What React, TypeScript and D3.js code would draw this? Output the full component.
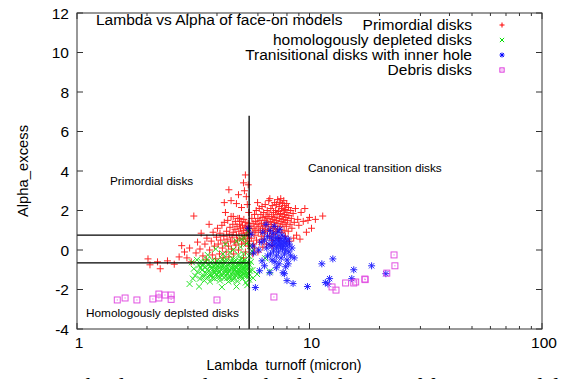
import React from 'react';
import * as d3 from 'd3';

const W = 569;
const H = 379;

const xTickValues = [1, 10, 100];
const xTickLabels = ['1', '10', '100'];
const xMinorTicks = [2, 3, 4, 5, 6, 7, 8, 9, 20, 30, 40, 50, 60, 70, 80, 90];
const yTickValues = [-4, -2, 0, 2, 4, 6, 8, 10, 12];

const legendNames = [
  'Primordial disks',
  'homologously depleted disks',
  'Tranisitional disks with inner hole',
  'Debris disks',
];
const seriesColors = ['#ff0000', '#00e000', '#0000ff', '#dd33dd'];

// boundary lines (data units)
const lambdaCut = 5.5;
const lambdaCutTop = 6.8;
const alphaUpper = 0.75;
const alphaLower = -0.65;

const primordial: [number, number][] = [
  [2.02, -0.45], [2.06, -0.75], [2.22, -0.6], [2.28, -0.95], [2.45, -0.55], [2.62, -0.72], [2.75, -0.35],
  [2.82, 0.22], [2.9, -0.1], [2.97, -0.4], [3.05, 0.1], [3.1, -0.6], [3.18, 1.72], [3.25, -0.15], [3.3, 0.4],
  [3.38, 0.05], [3.42, 0.85], [3.48, -0.3], [3.55, 0.3], [3.6, -0.5], [3.62, 0.6], [3.7, 1.3], [3.72, 0.0],
  [3.78, 0.45], [3.82, -0.25], [3.85, 0.9], [3.9, 0.2], [3.95, -0.45], [3.98, 0.65], [4.02, 1.1],
  [4.3, 2.4], [4.35, 1.9], [4.5, 3.05], [4.6, 2.5], [4.7, 1.7], [4.85, 2.35], [4.95, 2.8], [5.0, 1.6],
  [5.1, 2.15], [5.2, 3.4], [5.25, 3.0], [5.3, 3.8], [5.35, 2.7], [5.4, 2.3], [5.45, 3.3], [5.48, 1.9],
  [4.05, 0.3], [4.1, -0.2], [4.12, 0.85], [4.15, 0.5], [4.2, 1.25], [4.22, 0.1], [4.25, -0.4], [4.28, 0.7],
  [4.3, 1.4], [4.33, 0.35], [4.38, -0.1], [4.4, 0.95], [4.42, 0.55], [4.45, 1.5], [4.48, 0.2], [4.5, -0.35],
  [4.52, 0.8], [4.55, 1.15], [4.58, 0.45], [4.6, 1.7], [4.62, 0.05], [4.65, 0.65], [4.68, 1.3], [4.7, 0.9],
  [4.72, -0.2], [4.75, 0.4], [4.78, 1.05], [4.8, 1.45], [4.82, 0.25], [4.85, 0.75], [4.88, 1.2], [4.9, 0.5],
  [4.92, 1.6], [4.95, 0.0], [4.97, 0.95], [5.0, 1.3], [5.02, 0.6], [5.05, 1.1], [5.08, 1.45], [5.1, 0.3],
  [5.12, 0.85], [5.15, 1.25], [5.18, 0.55], [5.2, 1.0], [5.22, 1.55], [5.25, 0.7], [5.28, 1.15], [5.3, 0.35],
  [5.32, 1.4], [5.35, 0.9], [5.38, 1.2], [5.4, 0.6], [5.42, 1.0], [5.45, 1.35], [5.48, 0.8], [5.5, 1.1],
  [5.52, 0.45], [5.3, -0.1], [5.45, 0.2], [5.2, -0.4],
  [5.6, 1.2], [5.62, 0.6], [5.65, 1.6], [5.7, 0.9], [5.72, 1.35], [5.75, 0.3], [5.78, 1.1], [5.8, 1.8],
  [5.82, 0.75], [5.85, 1.45], [5.88, 1.0], [5.9, 2.0], [5.92, 0.5], [5.95, 1.3], [5.98, 2.4], [6.0, 1.6],
  [6.02, 0.9], [6.05, 1.2], [6.08, 2.1], [6.1, 0.4], [6.12, 1.5], [6.15, 1.0], [6.18, 1.8], [6.2, 0.7],
  [6.22, 1.35], [6.25, 2.2], [6.28, 1.1], [6.3, 1.65], [6.32, 0.55], [6.35, 1.9], [6.38, 1.25], [6.4, 0.85],
  [6.42, 1.5], [6.45, 2.3], [6.48, 1.05], [6.5, 1.7], [6.52, 0.3], [6.55, 1.4], [6.58, 2.0], [6.6, 0.95],
  [6.62, 1.6], [6.65, 1.2], [6.68, 2.5], [6.7, 1.8], [6.72, 0.7], [6.75, 2.6], [6.78, 1.45], [6.8, 1.0],
  [6.82, 2.1], [6.85, 1.3], [6.88, 1.7], [6.9, 0.5], [6.92, 2.25], [6.95, 1.55], [6.98, 1.1], [7.0, 1.9],
  [7.02, 0.8], [7.05, 1.4], [7.08, 2.4], [7.1, 1.65], [7.12, 1.2], [7.15, 2.0], [7.18, 0.95], [7.2, 1.5],
  [7.22, 2.3], [7.25, 1.8], [7.28, 1.05], [7.3, 2.55], [7.32, 1.35], [7.35, 1.95], [7.38, 0.6], [7.4, 2.2],
  [7.42, 1.6], [7.45, 2.4], [7.48, 1.2], [7.5, 1.85], [7.52, 2.6], [7.55, 1.45], [7.58, 2.1], [7.6, 0.9],
  [7.62, 1.7], [7.65, 2.35], [7.68, 1.3], [7.7, 2.0], [7.72, 1.55], [7.75, 2.5], [7.78, 1.0], [7.8, 1.8],
  [7.82, 2.25], [7.85, 1.4], [7.88, 0.7], [7.9, 2.05], [7.92, 1.65], [7.95, 1.2], [7.98, 2.35], [8.0, 1.9],
  [8.05, 1.5], [8.1, 0.95], [8.12, 2.15], [8.15, 1.75], [8.2, 0.45], [8.25, 1.3], [8.3, 2.0], [8.35, 1.6],
  [8.4, 1.1], [8.5, 1.85], [8.55, 0.6], [8.6, 1.4], [8.7, 2.1], [8.8, 0.75], [8.9, 1.55], [9.0, 1.25],
  [9.1, 0.55], [9.2, 1.9], [9.4, 1.45], [9.55, 2.1], [9.7, 0.9], [9.85, 1.5], [10.0, 1.65], [10.2, 1.1],
  [10.6, 1.55], [11.4, 1.72], [5.7, -0.2], [5.8, 0.1], [6.0, -0.1], [6.3, 0.15], [6.9, 0.2],
];

const homologous: [number, number][] = [
  [3.12, -0.62], [3.18, -0.95], [3.22, -1.3], [3.28, -0.5], [3.3, -1.12], [3.35, -0.78], [3.38, -1.45],
  [3.42, -0.58], [3.45, -1.02], [3.48, -1.25], [3.5, -0.7], [3.53, -1.55], [3.56, -0.88], [3.6, -1.18],
  [3.62, -0.48], [3.65, -1.38], [3.68, -0.75], [3.7, -1.05], [3.73, -1.6], [3.76, -0.62], [3.78, -0.92],
  [3.8, -1.28], [3.83, -0.52], [3.86, -1.12], [3.88, -0.82], [3.9, -1.45], [3.93, -0.68], [3.95, -1.0],
  [3.98, -1.22], [4.0, -0.55], [4.02, -0.85], [4.05, -1.35], [4.08, -0.72], [4.1, -1.08], [4.12, -1.55],
  [4.15, -0.6], [4.18, -0.95], [4.2, -1.25], [4.22, -0.45], [4.25, -0.8], [4.28, -1.15], [4.3, -1.42],
  [4.33, -0.65], [4.35, -1.0], [4.38, -1.3], [4.4, -0.5], [4.42, -0.88], [4.45, -1.18], [4.48, -1.6],
  [4.5, -0.72], [4.52, -1.05], [4.55, -1.38], [4.58, -0.58], [4.6, -0.92], [4.62, -1.22], [4.65, -0.42],
  [4.68, -0.78], [4.7, -1.1], [4.72, -1.48], [4.75, -0.62], [4.78, -0.98], [4.8, -1.28], [4.82, -0.5],
  [4.85, -0.85], [4.88, -1.15], [4.9, -1.58], [4.92, -0.7], [4.95, -1.02], [4.98, -1.35], [5.0, -0.55],
  [5.02, -0.9], [5.05, -1.2], [5.08, -0.45], [5.1, -0.78], [5.12, -1.1], [5.15, -1.45], [5.18, -0.65],
  [5.2, -0.95], [5.22, -1.25], [5.25, -0.52], [5.28, -0.85], [5.3, -1.15], [5.32, -1.65], [5.35, -0.7],
  [5.38, -1.0], [5.4, -1.3], [5.42, -0.58], [5.45, -0.9], [5.48, -1.2], [5.5, -1.5], [5.52, -0.75], [5.55, -1.05],
  [3.4, -0.9], [3.55, -0.62], [3.72, -1.25], [3.85, -0.98], [3.97, -0.72], [4.07, -1.18], [4.17, -0.82],
  [4.27, -0.58], [4.37, -1.12], [4.47, -0.92], [4.57, -0.68], [4.67, -1.3], [4.77, -0.82], [4.87, -1.05],
  [4.97, -0.78], [5.07, -1.32], [5.17, -0.85], [5.27, -1.05], [5.37, -0.82], [5.47, -1.35], [3.63, -1.0],
  [3.92, -1.15], [4.13, -1.4], [4.43, -1.42], [4.73, -0.95], [5.03, -1.05], [5.33, -1.25], [3.5, -1.38],
  [3.82, -1.42], [4.63, -1.52], [4.93, -1.22], [5.13, -0.6], [4.32, -0.88], [4.03, -0.98], [3.75, -0.78],
  [3.45, -0.78],
  [3.05, -1.72], [3.15, -1.45], [3.35, -1.85], [4.2, -1.88], [4.85, -1.85], [5.4, -1.78], [3.65, -0.25],
  [3.95, 0.05], [4.35, 0.3], [4.55, -0.12], [4.85, 0.45], [5.05, 0.15], [5.25, 0.6], [5.45, 0.95],
  [5.2, -0.2], [4.7, 0.02], [5.5, -0.3], [5.6, -0.6], [5.68, -1.02], [5.72, -1.42], [5.95, -1.22],
  [6.75, -1.08], [6.45, -0.42], [5.35, 0.32], [4.25, -0.2], [4.95, -0.25], [5.1, 0.55], [5.55, 0.2], [5.65, -0.05],
];

const transitional: [number, number][] = [
  [5.45, 1.1], [5.6, 0.8], [5.7, 0.2], [5.75, -0.15], [5.85, -1.9], [6.1, -1.05], [6.25, -0.55], [6.4, -0.8],
  [6.75, -1.15], [7.2, -0.9], [7.7, -1.15], [7.8, -1.2], [8.0, -1.55], [8.5, -1.7], [8.1, -0.7], [8.6, -0.4],
  [9.8, -1.85], [11.3, -0.7], [12.6, -0.45], [12.2, -1.45], [11.7, -1.65], [12.0, -1.72], [15.5, -1.0],
  [15.2, -1.45], [18.5, -0.8], [21.3, -1.2],
  [6.3, 0.9], [6.4, 0.5], [6.5, 1.3], [6.55, 0.1], [6.6, 0.7], [6.7, 0.3], [6.75, 1.0], [6.8, -0.2],
  [6.85, 0.6], [6.9, 0.2], [6.95, 0.85], [7.0, -0.05], [7.02, 0.45], [7.05, 1.2], [7.1, 0.3], [7.15, 0.65],
  [7.2, -0.3], [7.22, 0.1], [7.25, 0.5], [7.3, 0.9], [7.32, 0.25], [7.35, -0.1], [7.4, 0.6], [7.42, 0.35],
  [7.45, 1.05], [7.5, 0.15], [7.52, 0.5], [7.55, -0.4], [7.6, 0.3], [7.62, 0.75], [7.65, 0.05], [7.7, 0.45],
  [7.75, 0.2], [7.8, -0.2], [7.82, 0.6], [7.85, 0.35], [7.9, 0.0], [7.95, 0.4], [8.0, -0.5], [8.02, 0.2],
  [8.1, 0.55], [8.15, -0.1], [8.2, 0.3], [8.3, -0.3], [7.1, -0.6], [6.9, -0.5], [7.4, -0.7], [7.9, -0.85],
  [6.6, -0.3], [8.4, 0.1], [6.2, 0.4], [6.05, 0.0],
];

const debris: [number, number][] = [
  [1.49, -2.53], [1.61, -2.43], [1.81, -2.53], [2.12, -2.48], [2.25, -2.43], [2.25, -2.23], [2.39, -2.28],
  [2.54, -2.28], [2.54, -2.5], [4.0, -2.53], [7.03, -2.38], [12.5, -1.87], [13.0, -2.03], [14.3, -1.67],
  [15.5, -1.67], [15.8, -1.62], [17.3, -1.47], [17.35, -1.5], [21.5, -1.17], [23.1, -0.25], [23.3, -0.8],
];

const FONT = '"Liberation Sans", Arial, Helvetica, sans-serif';

function Marker({ kind, cx, cy, color, s }: { kind: number; cx: number; cy: number; color: string; s: number }) {
  const t = `translate(${cx},${cy})`;
  if (kind === 0) {
    return <path transform={t} d={`M${-s},0H${s}M0,${-s}V${s}`} stroke={color} strokeWidth={1} fill="none" />;
  }
  if (kind === 1) {
    const c = s * 0.85;
    return <path transform={t} d={`M${-c},${-c}L${c},${c}M${-c},${c}L${c},${-c}`} stroke={color} strokeWidth={1} fill="none" />;
  }
  if (kind === 2) {
    const c = s * 0.75;
    return (
      <path
        transform={t}
        d={`M${-s},0H${s}M0,${-s}V${s}M${-c},${-c}L${c},${c}M${-c},${c}L${c},${-c}`}
        stroke={color}
        strokeWidth={1}
        fill="none"
      />
    );
  }
  const q = s * 0.85;
  return (
    <g transform={t}>
      <rect x={-q} y={-q} width={2 * q} height={2 * q} stroke={color} strokeWidth={1} fill="none" />
      <rect x={-0.5} y={-0.5} width={1} height={1} fill={color} />
    </g>
  );
}

export default function App() {
  const x = d3.scaleLog().domain([1, 100]).range([77, 542]);
  const y = d3.scaleLinear().domain([-4, 12]).range([329, 13]);
  const [x0, x1] = x.range();
  const [y0, y1] = y.range();
  const majorLen = 6;
  const minorLen = 3;
  const border = '#333';

  const series = [primordial, homologous, transitional, debris];

  return (
    <svg
      width={W}
      height={H}
      viewBox={`0 0 ${W} ${H}`}
      style={{ position: 'absolute', left: 0, top: 0, background: '#fff' }}
    >
      <rect x={0} y={0} width={W} height={H} fill="#fff" />

      {/* data */}
      {series.map((pts, si) => (
        <g key={si} opacity={0.85}>
          {pts.map((p, i) => (
            <Marker key={i} kind={si} cx={x(p[0])} cy={y(p[1])} color={seriesColors[si]} s={3.5} />
          ))}
        </g>
      ))}

      {/* boundary lines */}
      <line x1={x(lambdaCut)} x2={x(lambdaCut)} y1={y(-4)} y2={y(lambdaCutTop)} stroke="#000" strokeWidth={1.3} />
      <line x1={x(1)} x2={x(lambdaCut)} y1={y(alphaUpper)} y2={y(alphaUpper)} stroke="#000" strokeWidth={1.3} />
      <line x1={x(1)} x2={x(lambdaCut)} y1={y(alphaLower)} y2={y(alphaLower)} stroke="#000" strokeWidth={1.3} />

      {/* border */}
      <rect x={x0} y={y1} width={x1 - x0} height={y0 - y1} fill="none" stroke={border} strokeWidth={1} />

      {/* x ticks */}
      {xTickValues.map((v) => (
        <g key={'xt' + v}>
          <line x1={x(v)} x2={x(v)} y1={y0} y2={y0 - majorLen} stroke={border} />
          <line x1={x(v)} x2={x(v)} y1={y1} y2={y1 + majorLen} stroke={border} />
        </g>
      ))}
      {xMinorTicks.map((v) => (
        <g key={'xm' + v}>
          <line x1={x(v)} x2={x(v)} y1={y0} y2={y0 - minorLen} stroke={border} />
          <line x1={x(v)} x2={x(v)} y1={y1} y2={y1 + minorLen} stroke={border} />
        </g>
      ))}
      {xTickValues.map((v, i) => (
        <text key={'xl' + v} x={x(v) + 2} y={348} textAnchor="middle" fontFamily={FONT} fontSize={15.5} fill="#000">
          {xTickLabels[i]}
        </text>
      ))}

      {/* y ticks */}
      {yTickValues.map((v) => (
        <g key={'yt' + v}>
          <line x1={x0} x2={x0 + majorLen} y1={y(v)} y2={y(v)} stroke={border} />
          <line x1={x1} x2={x1 - majorLen} y1={y(v)} y2={y(v)} stroke={border} />
          <text x={69} y={y(v) + 5.5} textAnchor="end" fontFamily={FONT} fontSize={15.5} fill="#000">
            {String(v)}
          </text>
        </g>
      ))}

      {/* axis titles */}
      <text
        x={284}
        y={370}
        textAnchor="middle"
        fontFamily={FONT}
        fontSize={14.2}
        fill="#000"
        style={{ whiteSpace: 'pre' }}
      >
        {'Lambda  turnoff (micron)'}
      </text>
      <text
        transform={`translate(28,171) rotate(-90)`}
        textAnchor="middle"
        fontFamily={FONT}
        fontSize={14.8}
        fill="#000"
      >
        Alpha_excess
      </text>

      {/* title */}
      <text x={96} y={25} fontFamily={FONT} fontSize={15.5} fill="#000">
        Lambda vs Alpha of face-on models
      </text>

      {/* legend */}
      {legendNames.map((name, i) => (
        <g key={'lg' + i}>
          <text x={472} y={30 + i * 15} textAnchor="end" fontFamily={FONT} fontSize={15.5} fill="#000">
            {name}
          </text>
          <Marker kind={i} cx={502} cy={25 + i * 15} color={seriesColors[i]} s={2.5} />
        </g>
      ))}

      {/* region annotations */}
      <text x={110} y={185} fontFamily={FONT} fontSize={11.8} fill="#000">
        Primordial disks
      </text>
      <text x={308} y={172} fontFamily={FONT} fontSize={11.8} fill="#000">
        Canonical transition disks
      </text>
      <text x={86} y={317} fontFamily={FONT} fontSize={11.8} fill="#000">
        Homologously deplsted disks
      </text>

      {/* caption (cut off at the bottom of the image) */}
      <text
        x={7}
        y={394}
        fontFamily='"Liberation Serif", "Times New Roman", serif'
        fontSize={23}
        fill="#000"
        textLength={575}
        lengthAdjust="spacing"
      >
        Fig. 3. The diagram shows the distribution of face-on models f
      </text>
    </svg>
  );
}
